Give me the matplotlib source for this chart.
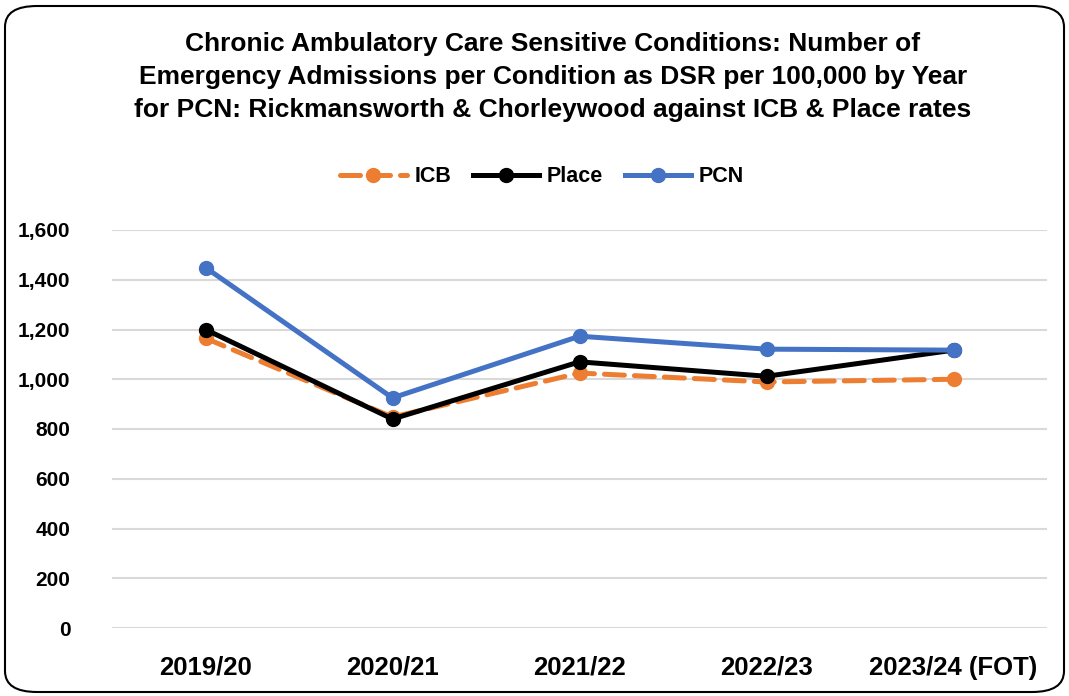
import matplotlib
matplotlib.use("Agg")
import matplotlib.pyplot as plt
from matplotlib.patches import FancyBboxPatch

years = ["2019/20", "2020/21", "2021/22", "2022/23", "2023/24 (FOT)"]
icb = [1165, 848, 1025, 989, 1000]
place = [1200, 840, 1070, 1012, 1117]
pcn = [1449, 925, 1173, 1121, 1117]
yticks = [0, 200, 400, 600, 800, 1000, 1200, 1400, 1600]
title = ("Chronic Ambulatory Care Sensitive Conditions: Number of\n"
         "Emergency Admissions per Condition as DSR per 100,000 by Year\n"
         "for PCN: Rickmansworth & Chorleywood against ICB & Place rates")

plt.rcParams['font.family'] = ['Liberation Sans', 'DejaVu Sans']

W, H = 1069, 696
fig = plt.figure(figsize=(W / 100, H / 100), dpi=100)
ax = fig.add_axes([112 / W, 1 - 628 / H, (1047 - 112) / W, (628 - 230) / H])

x = list(range(len(years)))
ax.plot(x, icb, color="#ED7D31", lw=3.6, ls=(0, (4, 2)), dash_capstyle="round",
        marker="o", ms=10, label="ICB", zorder=2)
ax.plot(x, place, color="#000000", lw=3.6, marker="o", ms=10, label="Place", zorder=3)
ax.plot(x, pcn, color="#4472C4", lw=3.6, marker="o", ms=10, label="PCN", zorder=4)

ax.set_xlim(-0.5, len(years) - 0.5)
ax.set_ylim(0, 1600)
ax.set_yticks(yticks)
ax.set_yticklabels([f"{v:,}" for v in yticks], fontsize=15, fontweight="bold")
ax.set_xticks(x)
ax.set_xticklabels(years, fontsize=18.5, fontweight="bold")
ax.tick_params(axis="both", length=0)
ax.tick_params(axis="y", pad=30)
ax.tick_params(axis="x", pad=20)
ax.grid(axis="y", color="#D9D9D9", lw=1.5)
ax.set_axisbelow(True)
for s in ax.spines.values():
    s.set_visible(False)

fig.text(553 / W, 1 - 77 / H, title, ha="center", va="center", fontsize=19,
         fontweight="bold", linespacing=1.45)

leg = fig.legend(loc="center", bbox_to_anchor=(542 / W, 1 - 177 / H), ncol=3,
                 frameon=False, prop={"size": 15.5, "weight": "bold"},
                 handlelength=3.1, columnspacing=1.0, handletextpad=0.35)

border = FancyBboxPatch((5 / W, 4 / H), (W - 10) / W, (H - 10) / H,
                        boxstyle="round,pad=0,rounding_size=0.03",
                        transform=fig.transFigure, fill=False, ec="black", lw=1.5)
fig.patches.append(border)

fig.savefig("out.png", dpi=100)
